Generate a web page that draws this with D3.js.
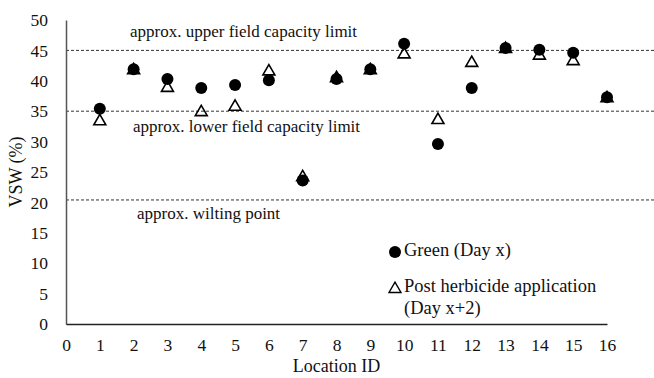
<!DOCTYPE html>
<html lang="en">
<head>
  <meta charset="UTF-8">
  <title>VSW by location</title>
  <style>
    body { margin: 0; background: #fff; }
    svg text { font-family: "Liberation Serif", "Times New Roman", serif; fill: #111; }
  </style>
</head>
<body>
  <svg id="chart"></svg>
  <script src="https://d3js.org/d3.v7.min.js"></script>
  <script>
    const locations = [1, 2, 3, 4, 5, 6, 7, 8, 9, 10, 11, 12, 13, 14, 15, 16];
    const green = [35.4, 41.9, 40.3, 38.8, 39.3, 40.1, 23.6, 40.3, 41.9, 46.1, 29.6, 38.8, 45.4, 45.1, 44.6, 37.3];
    const postHerbicide = [33.5, 41.9, 39.0, 35.0, 35.9, 41.7, 24.3, 40.6, 41.9, 44.5, 33.7, 43.1, 45.4, 44.3, 43.4, 37.3];
    const xTicks = d3.range(0, 17);
    const yTicks = [0, 5, 10, 15, 20, 25, 30, 35, 40, 45, 50];
    const refLines = [
      { value: 45, label: "approx. upper field capacity limit", lx: 130, dy: -17 },
      { value: 35, label: "approx. lower field capacity limit", lx: 133, dy: 17 },
      { value: 20.4, label: "approx. wilting point", lx: 137, dy: 15 }
    ];

    const width = 654, height = 378;
    const svg = d3.select("#chart").attr("width", width).attr("height", height);

    const x = d3.scaleLinear().domain([0, 16]).range([66, 607]);
    const y = d3.scaleLinear().domain([0, 50]).range([324, 20]);

    // reference lines
    const ref = svg.append("g");
    ref.selectAll("line").data(refLines).enter().append("line")
      .attr("x1", x(0)).attr("x2", 654)
      .attr("y1", d => y(d.value)).attr("y2", d => y(d.value))
      .attr("stroke", "#333").attr("stroke-width", 1)
      .attr("stroke-dasharray", "3,2");
    ref.selectAll("text").data(refLines).enter().append("text")
      .attr("x", d => d.lx)
      .attr("y", d => y(d.value) + d.dy)
      .attr("dominant-baseline", "middle")
      .attr("font-size", 17)
      .text(d => d.label);

    // axes
    const yAxis = svg.append("g").attr("transform", `translate(${x(0)},0)`)
      .call(d3.axisLeft(y).tickValues(yTicks).tickSize(0).tickPadding(18));
    yAxis.select(".domain").attr("stroke", "#555").attr("stroke-width", 1.5);
    yAxis.selectAll("text").attr("font-size", 17.5);

    const xAxis = svg.append("g").attr("transform", `translate(0,${y(0)})`)
      .call(d3.axisBottom(x).tickValues(xTicks).tickSize(0).tickPadding(15));
    xAxis.select(".domain").attr("stroke", "#222").attr("stroke-width", 1.5);
    xAxis.selectAll("text").attr("font-size", 17.5);

    svg.append("text")
      .attr("transform", `translate(18,${y(25)}) rotate(-90)`)
      .attr("text-anchor", "middle").attr("dominant-baseline", "middle")
      .attr("font-size", 18).text("VSW (%)");
    svg.append("text")
      .attr("x", (x(0) + x(16)) / 2).attr("y", 368)
      .attr("text-anchor", "middle").attr("dominant-baseline", "middle")
      .attr("font-size", 18).text("Location ID");

    // series
    const tri = d3.symbol().type(d3.symbolTriangle).size(62);
    const circles = svg.append("g");
    circles.selectAll("circle").data(locations).enter().append("circle")
      .attr("cx", d => x(d)).attr("cy", (d, i) => y(green[i]))
      .attr("r", 6).attr("fill", "#000");
    const tris = svg.append("g");
    tris.selectAll("path").data(locations).enter().append("path")
      .attr("d", tri)
      .attr("transform", (d, i) => `translate(${x(d)},${y(postHerbicide[i]) + 1})`)
      .attr("fill", "none").attr("stroke", "#000").attr("stroke-width", 1.6);

    // legend
    const lg = svg.append("g");
    lg.append("circle").attr("cx", 395).attr("cy", 252).attr("r", 6).attr("fill", "#000");
    lg.append("text").attr("x", 404).attr("y", 252).attr("dominant-baseline", "middle")
      .attr("font-size", 18.5).text("Green (Day x)");
    lg.append("path").attr("d", tri).attr("transform", "translate(395,289)")
      .attr("fill", "none").attr("stroke", "#000").attr("stroke-width", 1.4);
    lg.append("text").attr("x", 404).attr("y", 288).attr("dominant-baseline", "middle")
      .attr("font-size", 18.5).text("Post herbicide application");
    lg.append("text").attr("x", 404).attr("y", 310).attr("dominant-baseline", "middle")
      .attr("font-size", 18.5).text("(Day x+2)");
  </script>
</body>
</html>
